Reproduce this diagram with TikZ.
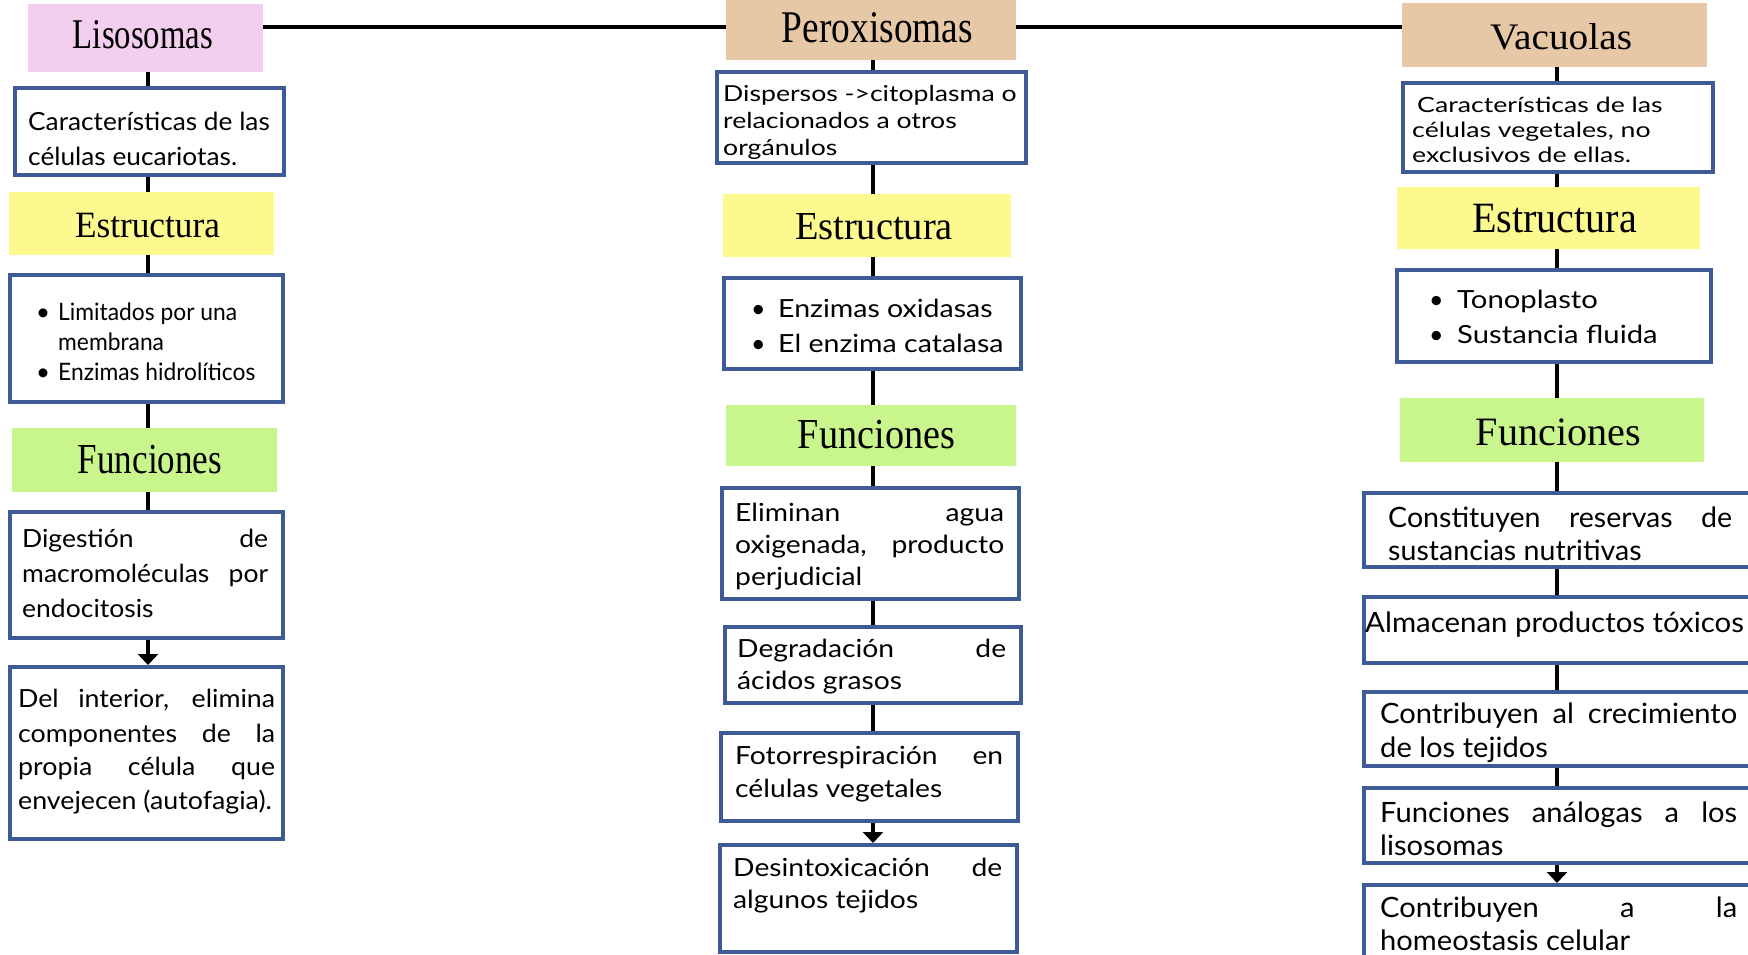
\documentclass[tikz,border=0pt]{standalone}
\usepackage{graphicx}
\usepackage{fontspec}
\setmainfont{Lato}
\newfontfamily\headfont{Liberation Serif}
\usetikzlibrary{arrows.meta,calc}
\definecolor{pinkbox}{HTML}{F2CFEE}
\definecolor{yellowbox}{HTML}{FCF98F}
\definecolor{greenbox}{HTML}{C8F58C}
\definecolor{tanbox}{HTML}{E7C8A6}
\definecolor{blueline}{HTML}{3E5A97}
\newcommand\fN{\fontsize{25}{30}\selectfont}
\newcommand\fS{\fontsize{22}{26}\selectfont}
\newcommand\fV{\fontsize{21}{25}\selectfont}
\newcommand\fB{\fontsize{24}{29}\selectfont}
\newcommand\fR{\fontsize{28}{33}\selectfont}
\newcommand\headtxt[3]{\resizebox{#1pt}{#2pt}{\headfont #3}}
\newcommand\sx[2]{\scalebox{#1}[1]{#2}}
\newcommand\jx[3]{\pgfmathsetmacro\tmpw{#2/#1}\scalebox{#1}[1]{\makebox[\tmpw pt][s]{#3}}}
\newcommand\mkbox[6]{%
  \pgfmathsetmacro\cxx{(#3+#5)/2}\pgfmathsetmacro\cyy{(#4+#6)/2}%
  \pgfmathsetmacro\ww{#5-#3}\pgfmathsetmacro\hh{#6-#4}%
  \node[#1, minimum width=\ww pt, minimum height=\hh pt] (#2) at (\cxx,\cyy) {};}
\newcommand\mkblue[5]{\mkbox{bbox}{#1}{#2+2}{#3+2}{#4-2}{#5-2}}
\tikzset{
  hbox/.style={rectangle, inner sep=0, draw=none},
  bbox/.style={rectangle, inner sep=0, draw=blueline, line width=4pt, fill=white},
  conn/.style={line width=4.5pt, black},
  arr/.style={conn, -{Triangle[width=20pt,length=11pt]}},
  txt/.style={inner sep=0, anchor=base west},
  head/.style={inner sep=0, anchor=base},
}
\begin{document}
\begin{tikzpicture}[x=1pt,y=-1pt]
\useasboundingbox (0,0) rectangle (1748,955);
\clip (0,0) rectangle (1748,955);
\fill[white] (0,0) rectangle (1748,955);
% column axes
\coordinate (cL) at (148,0);
\coordinate (cC) at (873,0);
\coordinate (cR) at (1557,0);
\coordinate (hl) at (0,27);
% header boxes
\mkbox{hbox, fill=pinkbox}{L0}{28}{4}{263}{72}
\mkbox{hbox, fill=yellowbox}{L2}{9}{192}{274}{255}
\mkbox{hbox, fill=greenbox}{L4}{12}{428}{277}{492}
\mkbox{hbox, fill=tanbox}{P0}{726}{0}{1016}{60}
\mkbox{hbox, fill=yellowbox}{P2}{723}{194}{1011}{257}
\mkbox{hbox, fill=greenbox}{P4}{726}{405}{1016}{466}
\mkbox{hbox, fill=tanbox}{V0}{1402}{3}{1707}{67}
\mkbox{hbox, fill=yellowbox}{V2}{1397}{187}{1700}{249}
\mkbox{hbox, fill=greenbox}{V4}{1400}{398}{1704}{462}
% blue boxes
\mkblue{L1}{15}{88}{284}{175}
\mkblue{L3}{10}{275}{283}{402}
\mkblue{L5}{10}{512}{283}{638}
\mkblue{L6}{10}{667}{283}{839}
\mkblue{P1}{717}{72}{1026}{163}
\mkblue{P3}{724}{278}{1021}{369}
\mkblue{P5}{722}{488}{1019}{599}
\mkblue{P6}{725}{627}{1021}{703}
\mkblue{P7}{721}{733}{1018}{821}
\mkblue{P8}{720}{845}{1017}{952}
\mkblue{V1}{1403}{83}{1713}{172}
\mkblue{V3}{1397}{270}{1711}{362}
\mkblue{V5}{1364}{493}{1760}{567}
\mkblue{V6}{1364}{597}{1760}{663}
\mkblue{V7}{1364}{692}{1760}{766}
\mkblue{V8}{1364}{788}{1760}{863}
\mkblue{V9}{1364}{885}{1760}{975}
% connectors
\draw[conn, line width=4pt] (L0.east |- hl) -- (P0.west |- hl);
\draw[conn, line width=4pt] (P0.east |- hl) -- (V0.west |- hl);
\draw[conn] (L0.south -| cL) -- (L1.north -| cL);
\draw[conn] (L1.south -| cL) -- (L2.north -| cL);
\draw[conn] (L2.south -| cL) -- (L3.north -| cL);
\draw[conn] (L3.south -| cL) -- (L4.north -| cL);
\draw[conn] (L4.south -| cL) -- (L5.north -| cL);
\draw[arr] (L5.south -| cL) -- (L6.north -| cL);
\draw[conn] (P0.south -| cC) -- (P1.north -| cC);
\draw[conn] (P1.south -| cC) -- (P2.north -| cC);
\draw[conn] (P2.south -| cC) -- (P3.north -| cC);
\draw[conn] (P3.south -| cC) -- (P4.north -| cC);
\draw[conn] (P4.south -| cC) -- (P5.north -| cC);
\draw[conn] (P5.south -| cC) -- (P6.north -| cC);
\draw[conn] (P6.south -| cC) -- (P7.north -| cC);
\draw[arr] (P7.south -| cC) -- (P8.north -| cC);
\draw[conn] (V0.south -| cR) -- (V1.north -| cR);
\draw[conn] (V1.south -| cR) -- (V2.north -| cR);
\draw[conn] (V2.south -| cR) -- (V3.north -| cR);
\draw[conn] (V3.south -| cR) -- (V4.north -| cR);
\draw[conn] (V4.south -| cR) -- (V5.north -| cR);
\draw[conn] (V5.south -| cR) -- (V6.north -| cR);
\draw[conn] (V6.south -| cR) -- (V7.north -| cR);
\draw[conn] (V7.south -| cR) -- (V8.north -| cR);
\draw[arr] (V8.south -| cR) -- (V9.north -| cR);
% headings
\node[head] (hL0) at (143,49) {\headtxt{140}{28}{Lisosomas}};
\node[head] (hL2) at (147.5,237) {\headtxt{145}{24.3}{Estructura}};
\node[head] (hL4) at (150,473) {\headtxt{144}{28.3}{Funciones}};
\node[head] (hP0) at (877.5,43) {\headtxt{191}{30}{Peroxisomas}};
\node[head] (hP2) at (874,239) {\headtxt{158}{26}{Estructura}};
\node[head] (hP4) at (876.5,448) {\headtxt{157}{28.3}{Funciones}};
\node[head] (hV0) at (1561,50) {\headtxt{142}{26}{Vacuolas}};
\node[head] (hV2) at (1554.5,232) {\headtxt{165}{28.3}{Estructura}};
\node[head] (hV4) at (1558.5,445) {\headtxt{165}{26.7}{Funciones}};
% left texts
\node[txt,font=\fN] (tL1a) at (28,131) {\sx{1.05}{Características de las}};
\node[txt,font=\fN] (tL1b) at (28,165) {\sx{1.05}{células eucariotas.}};
\node[txt,font=\fB] (bL3a) at (36,320) {\textbullet};
\node[txt,font=\fB] (tL3a) at (58,320) {\sx{0.95}{Limitados por una}};
\node[txt,font=\fB] (tL3b) at (58,350) {\sx{0.95}{membrana}};
\node[txt,font=\fB] (bL3b) at (36,380) {\textbullet};
\node[txt,font=\fB] (tL3c) at (58,380) {\sx{0.95}{Enzimas hidrolíticos}};
\node[txt,font=\fN] (tL5a) at (22,547) {\jx{1.06}{246}{Digestión de}};
\node[txt,font=\fN] (tL5b) at (22,582) {\jx{1.06}{246}{macromoléculas por}};
\node[txt,font=\fN] (tL5c) at (22,617) {\sx{1.06}{endocitosis}};
\node[txt,font=\fN] (tL6a) at (18,707) {\jx{1.07}{257}{Del interior, elimina}};
\node[txt,font=\fN] (tL6b) at (18,742) {\jx{1.07}{257}{componentes de la}};
\node[txt,font=\fN] (tL6c) at (18,775) {\jx{1.07}{257}{propia célula que}};
\node[txt,font=\fN] (tL6d) at (18,809) {\sx{1.07}{envejecen (autofagia).}};
% center texts
\node[txt,font=\fS] (tP1a) at (723,102) {\sx{1.21}{Dispersos ->citoplasma o}};
\node[txt,font=\fS] (tP1b) at (723,129) {\sx{1.21}{relacionados a otros}};
\node[txt,font=\fS] (tP1c) at (723,155) {\sx{1.21}{orgánulos}};
\node[txt,font=\fN] (bP3a) at (751,317) {\textbullet};
\node[txt,font=\fN] (tP3a) at (778,317) {\sx{1.14}{Enzimas oxidasas}};
\node[txt,font=\fN] (bP3b) at (751,352) {\textbullet};
\node[txt,font=\fN] (tP3b) at (778,352) {\sx{1.14}{El enzima catalasa}};
\node[txt,font=\fN] (tP5a) at (735,521) {\jx{1.13}{269}{Eliminan agua}};
\node[txt,font=\fN] (tP5b) at (735,553) {\jx{1.13}{269}{oxigenada, producto}};
\node[txt,font=\fN] (tP5c) at (735,585) {\sx{1.13}{perjudicial}};
\node[txt,font=\fN] (tP6a) at (737,657) {\jx{1.13}{269}{Degradación de}};
\node[txt,font=\fN] (tP6b) at (737,689) {\sx{1.13}{ácidos grasos}};
\node[txt,font=\fN] (tP7a) at (735,764) {\jx{1.13}{268}{Fotorrespiración en}};
\node[txt,font=\fN] (tP7b) at (735,797) {\sx{1.13}{células vegetales}};
\node[txt,font=\fN] (tP8a) at (733,876) {\jx{1.13}{269}{Desintoxicación de}};
\node[txt,font=\fN] (tP8b) at (733,908) {\sx{1.13}{algunos tejidos}};
% right texts
\node[txt,font=\fV] (tV1a) at (1417,113) {\sx{1.27}{Características de las}};
\node[txt,font=\fV] (tV1b) at (1412,138) {\sx{1.27}{células vegetales, no}};
\node[txt,font=\fV] (tV1c) at (1412,163) {\sx{1.27}{exclusivos de ellas.}};
\node[txt,font=\fN] (bV3a) at (1429,308) {\textbullet};
\node[txt,font=\fN] (tV3a) at (1457,308) {\sx{1.17}{Tonoplasto}};
\node[txt,font=\fN] (bV3b) at (1429,343) {\textbullet};
\node[txt,font=\fN] (tV3b) at (1457,343) {\sx{1.17}{Sustancia fluida}};
\node[txt,font=\fR] (tV5a) at (1388,527) {\jx{1.02}{344}{Constituyen reservas de}};
\node[txt,font=\fR] (tV5b) at (1388,560) {\sx{1.02}{sustancias nutritivas}};
\node[txt,font=\fR] (tV6a) at (1365,632) {\sx{1.05}{Almacenan productos tóxicos}};
\node[txt,font=\fR] (tV7a) at (1380,723) {\jx{1.04}{357}{Contribuyen al crecimiento}};
\node[txt,font=\fR] (tV7b) at (1380,757) {\sx{1.04}{de los tejidos}};
\node[txt,font=\fR] (tV8a) at (1380,822) {\jx{1.04}{357}{Funciones análogas a los}};
\node[txt,font=\fR] (tV8b) at (1380,855) {\sx{1.04}{lisosomas}};
\node[txt,font=\fR] (tV9a) at (1380,917) {\jx{1.04}{357}{Contribuyen a la}};
\node[txt,font=\fR] (tV9b) at (1380,950) {\sx{1.04}{homeostasis celular}};
\end{tikzpicture}
\end{document}
